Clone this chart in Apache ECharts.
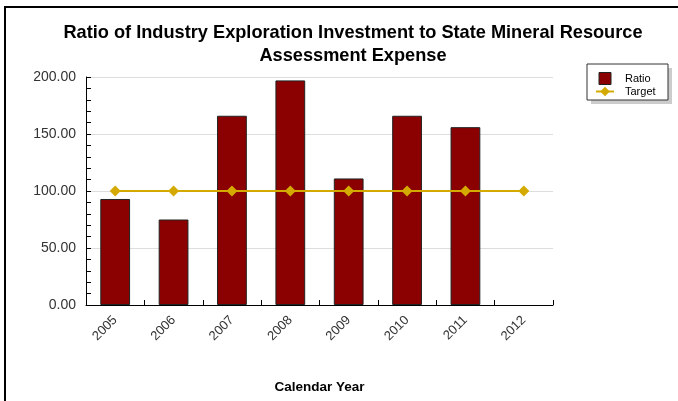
<!DOCTYPE html>
<html>
<head>
<meta charset="utf-8">
<script src="https://cdn.jsdelivr.net/npm/echarts@6/dist/echarts.min.js"></script>
<style>
    html, body { margin: 0; padding: 0; background: #fff; }
    #chart { width: 678px; height: 401px; }
</style>
</head>
<body>
<div id="chart"></div>
<script>
// 数据
const years = ['2005', '2006', '2007', '2008', '2009', '2010', '2011', '2012']
const ratio = [93, 75, 166, 197, 111, 166, 156, null]
const target = [100, 100, 100, 100, 100, 100, 100, 100]
const yTicks = [0, 50, 100, 150, 200]

const chart = echarts.init(document.getElementById('chart'))

let option = {
    animation: false,
    textStyle: { fontFamily: 'Liberation Sans, Arial, sans-serif' },
    title: {
        text: 'Ratio of Industry Exploration Investment to State Mineral Resource\nAssessment Expense',
        left: 348,
        top: 16,
        textAlign: 'center',
        textStyle: { fontSize: 18.2, fontWeight: 'bold', color: '#000', lineHeight: 23 },
    },
    // 外框 + 图例框
    graphic: [
        {
            type: 'rect',
            shape: { x: 5, y: 7, width: 800, height: 500 },
            style: { fill: 'none', stroke: '#000', lineWidth: 2 },
            silent: true,
        },
        {
            type: 'rect',
            shape: { x: 591, y: 68, width: 81, height: 36 },
            style: { fill: '#ccc' },
            silent: true,
        },
        {
            type: 'rect',
            shape: { x: 587, y: 64, width: 81, height: 36 },
            style: { fill: '#fff', stroke: '#333', lineWidth: 1 },
            silent: true,
        },
    ],
    legend: {
        orient: 'vertical',
        left: 590,
        top: 67,
        itemGap: 1,
        itemWidth: 18,
        itemHeight: 12,
        textStyle: { fontSize: 11, color: '#000', padding: [0, 0, 0, 6] },
        data: [
            {
                name: 'Ratio',
                icon: 'path://M0,0 H10 V10 H0 Z',
                itemStyle: { borderColor: '#222', borderWidth: 1 },
            },
            { name: 'Target' },
        ],
    },
    grid: { left: 86, right: 125, top: 77, bottom: 96 },
    xAxis: {
        type: 'category',
        data: years,
        name: 'Calendar Year',
        nameLocation: 'middle',
        nameGap: 75,
        nameTextStyle: { fontSize: 13.5, fontWeight: 'bold', color: '#000' },
        axisLine: { lineStyle: { color: '#000', width: 1 } },
        axisTick: { show: true, inside: true, length: 5, lineStyle: { color: '#000' } },
        axisLabel: { rotate: 45, fontSize: 13, color: '#333', margin: 13 },
    },
    yAxis: {
        type: 'value',
        min: yTicks[0],
        max: yTicks[yTicks.length - 1],
        interval: 50,
        axisLine: { show: true, lineStyle: { color: '#000' } },
        axisTick: { show: true, inside: true, length: 5, lineStyle: { color: '#000' } },
        minorTick: { show: true, splitNumber: 5, length: 5, lineStyle: { color: '#000' } },
        splitLine: { lineStyle: { color: '#ddd' } },
        axisLabel: {
            fontSize: 14,
            color: '#333',
            margin: 10,
            formatter: (v) => v.toFixed(2),
        },
    },
    series: [
        {
            name: 'Ratio',
            type: 'bar',
            data: ratio,
            barWidth: '51%',
            itemStyle: { color: '#8b0000', borderColor: '#222', borderWidth: 1 },
        },
        {
            name: 'Target',
            type: 'line',
            data: target,
            symbol: 'diamond',
            symbolSize: 11,
            itemStyle: { color: '#d4aa00' },
            lineStyle: { color: '#d4aa00', width: 2 },
        },
    ],
}

chart.setOption(option)
</script>
</body>
</html>
